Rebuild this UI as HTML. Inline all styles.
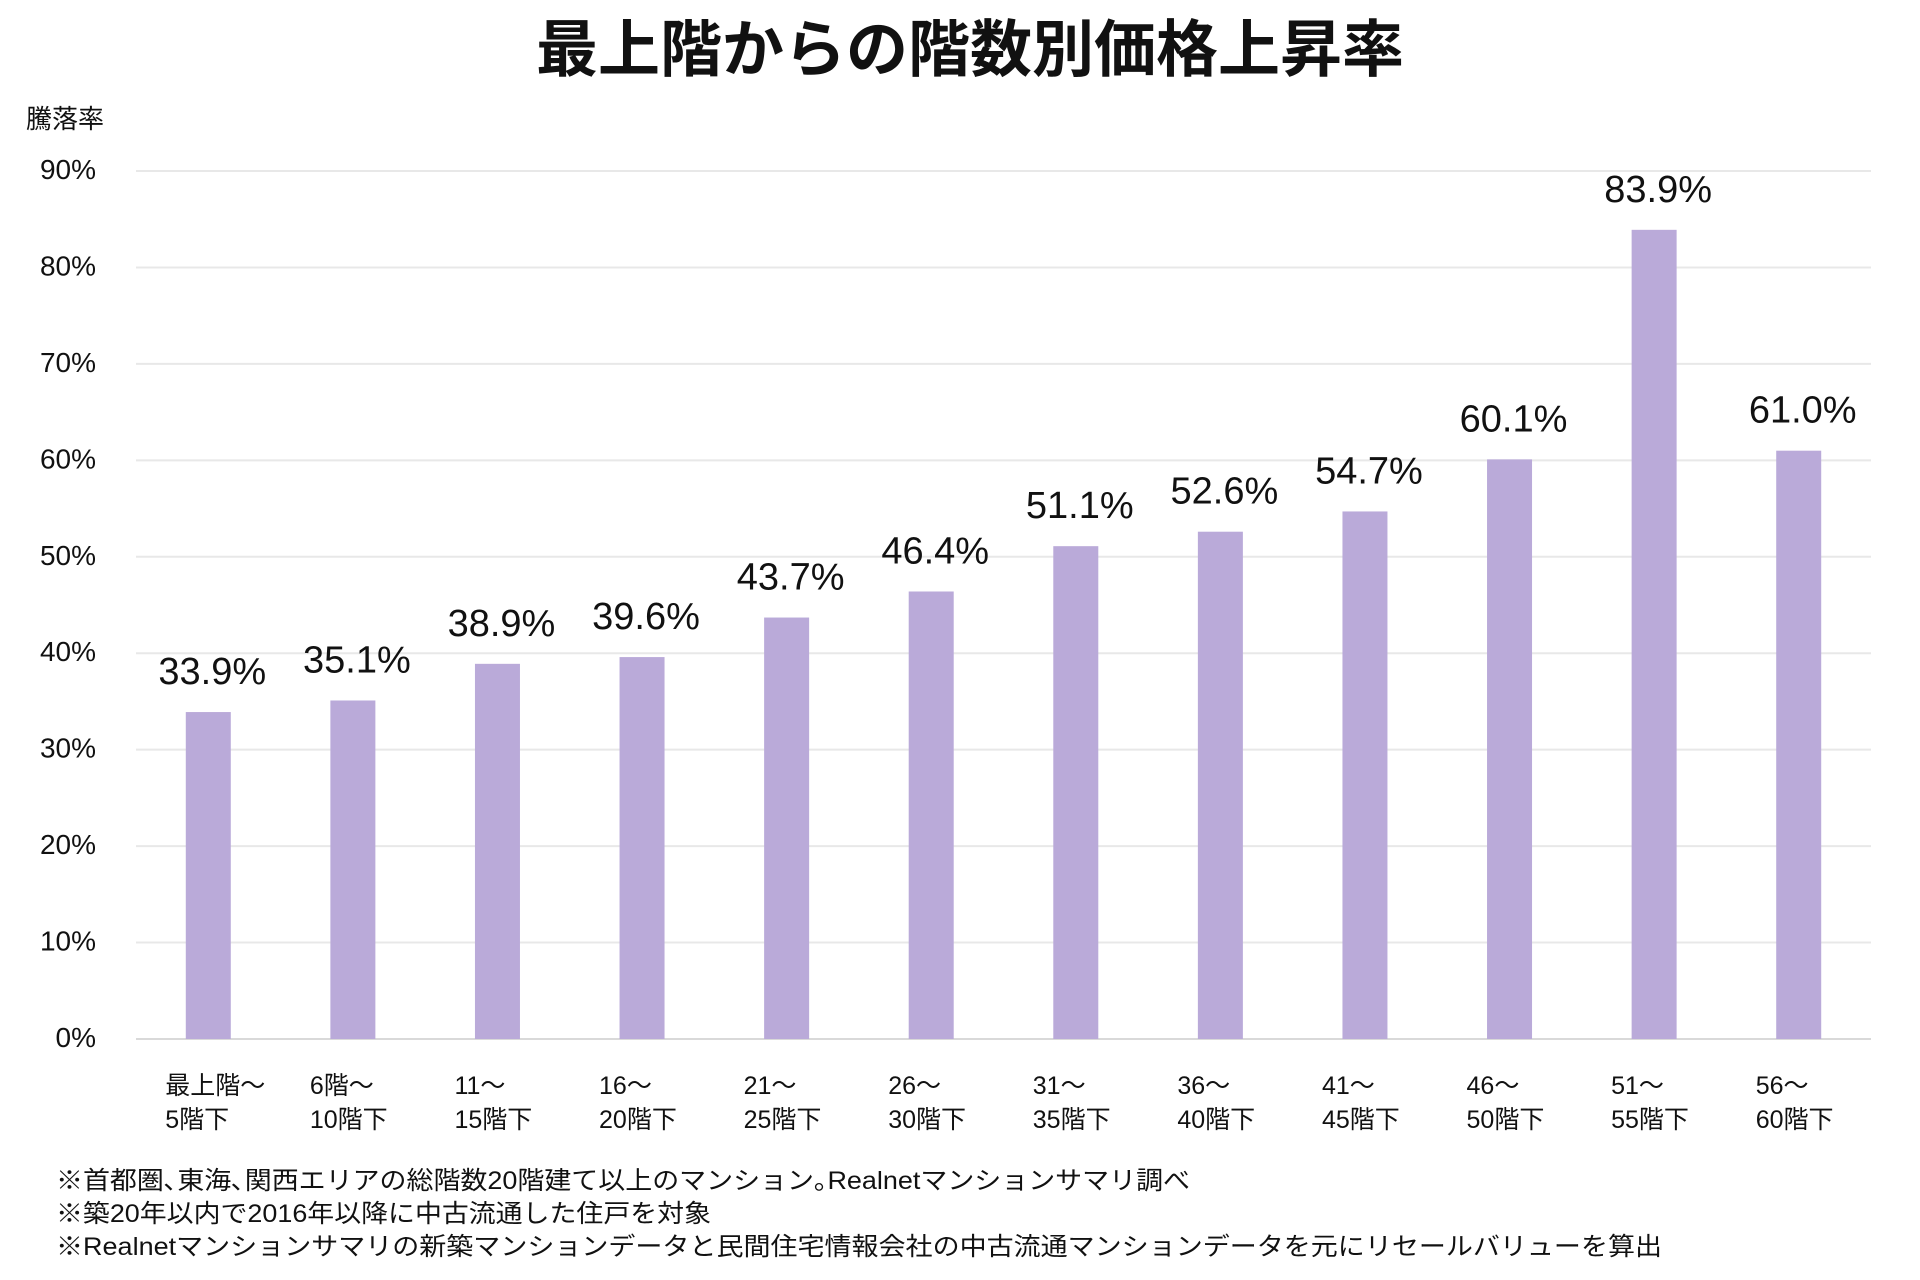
<!DOCTYPE html>
<html><head><meta charset="utf-8">
<style>
html,body{margin:0;padding:0;background:#fff;}
svg{display:block;font-family:"Liberation Sans","Noto Sans CJK JP",sans-serif;}
</style></head>
<body>
<svg id="chart" width="1920" height="1280" viewBox="0 0 1920 1280" xmlns="http://www.w3.org/2000/svg">
<text x="970" y="71" text-anchor="middle" font-size="62" font-weight="bold" fill="#111" font-family="'Noto Sans CJK JP',sans-serif">最上階からの階数別価格上昇率</text>
<text x="26" y="128" font-size="26" fill="#111" font-family="'Noto Sans CJK JP',sans-serif">騰落率</text>
<g id="grid"></g>
<g id="bars"></g>
<g id="xlabels"></g>
<text x="56" y="1189" font-size="25" fill="#111" textLength="1134" lengthAdjust="spacingAndGlyphs">※首都圏､東海､関西エリアの総階数20階建て以上のマンション｡Realnetマンションサマリ調べ</text>
<text x="56" y="1222" font-size="25" fill="#111" textLength="655" lengthAdjust="spacingAndGlyphs">※築20年以内で2016年以降に中古流通した住戸を対象</text>
<text x="56" y="1255" font-size="25" fill="#111" textLength="1606" lengthAdjust="spacingAndGlyphs">※Realnetマンションサマリの新築マンションデータと民間住宅情報会社の中古流通マンションデータを元にリセールバリューを算出</text>
</svg>
<script>
const categoriesLine1 = ["最上階〜","6階〜","11〜","16〜","21〜","26〜","31〜","36〜","41〜","46〜","51〜","56〜"];
const categoriesLine2 = ["5階下","10階下","15階下","20階下","25階下","30階下","35階下","40階下","45階下","50階下","55階下","60階下"];
const values = [33.9,35.1,38.9,39.6,43.7,46.4,51.1,52.6,54.7,60.1,83.9,61.0];
const yTicks = [0,10,20,30,40,50,60,70,80,90];

const NS = "http://www.w3.org/2000/svg";
const plotLeft = 136, plotRight = 1871, y0 = 1039, yTop = 171, yMax = 90;
const band = (plotRight - plotLeft) / values.length;
const barW = 45;
function xCenter(i){ return plotLeft + band * (i + 0.5); }
function yScale(v){ return y0 - (v / yMax) * (y0 - yTop); }
function mk(tag, attrs, parent){ const e = document.createElementNS(NS, tag); for (const k in attrs) e.setAttribute(k, attrs[k]); parent.appendChild(e); return e; }

const grid = document.getElementById('grid');
yTicks.forEach(t => {
  const y = yScale(t);
  const l = mk('line', {x1: plotLeft, x2: plotRight, y1: y, y2: y, stroke: t === 0 ? '#d9d9d9' : '#e8e8e8', 'stroke-width': 2}, grid);
  
  
  const tx = mk('text', {x: 96, y: y + 8, 'text-anchor': 'end', 'font-size': 28, fill: '#111'}, grid);
  
  
  tx.textContent = t + '%';
});

const bars = document.getElementById('bars');
values.forEach((v, i) => {
  const cx = xCenter(i), y = yScale(v);
  const r = mk('rect', {x: cx - barW/2, y: y, width: barW, height: y0 - y, fill: '#baaad9'}, bars);
  
  
  const t = mk('text', {x: cx + 4, y: y - 28, 'text-anchor': 'middle', 'font-size': 38, fill: '#111'}, bars);
  
  
  t.textContent = v.toFixed(1) + '%';
});

const xl = document.getElementById('xlabels');
categoriesLine1.forEach((c, i) => {
  const x = xCenter(i) - 43;
  const t = mk('text', {x: x, y: 1094, 'font-size': 25, fill: '#111'}, xl);
  
  
  const s1 = mk('tspan', {x: x, y: 1094}, t); s1.textContent = c;
  const s2 = mk('tspan', {x: x, y: 1128}, t); s2.textContent = categoriesLine2[i];
});
</script>
</body></html>
